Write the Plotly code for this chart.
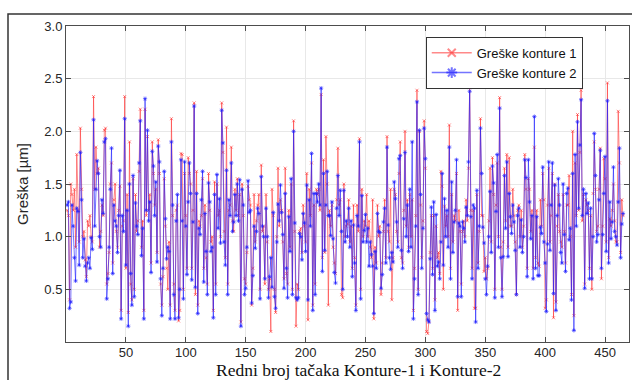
import plotly.graph_objects as go

# Values (index 1..465)
konture2 = [
    1.30,1.33,0.32,0.38,1.30,1.10,0.80,0.58,1.27,1.24,
    0.73,1.80,1.35,0.80,0.98,0.72,0.58,0.75,0.80,0.70,
    0.99,0.88,2.11,1.10,1.45,1.72,1.60,1.00,0.90,1.35,
    1.22,1.90,1.93,0.41,0.60,0.90,1.45,1.84,0.65,1.30,
    1.15,1.10,0.85,1.20,
    1.63,0.22,1.20,1.05,2.12,0.73,
    1.25,0.15,1.50,0.65,0.35,1.58,0.43,1.32,1.10,1.02,
    1.70,2.10,0.82,1.08,0.22,2.31,1.25,2.01,1.15,1.33,
    0.66,1.81,1.67,1.20,1.52,0.76,1.86,1.71,0.60,0.25,
    0.70,1.62,1.17,0.79,0.90,0.86,0.22,1.90,1.30,0.45,
    0.22,1.15,1.40,
    0.23,0.50,1.73,1.15,0.41,1.71,1.10,
    0.64,1.33,1.70,1.41,0.59,1.14,2.24,0.52,1.41,0.27,
    1.08,1.02,1.35,1.62,0.57,1.22,0.86,0.45,1.51,1.33,
    0.86,0.90,0.23,1.40,0.45,1.59,1.08,1.36,0.94,2.20,
    1.89,0.95,0.73,1.63,0.45,1.35,1.20,1.70,1.05,1.14,1.40,
    1.20,1.50,1.15,1.54,0.15,1.45,1.30,0.45,0.51,
    0.90,1.53,1.23,1.25,0.37,0.63,1.10,0.89,1.05,1.27,
    1.22,0.41,1.57,1.10,1.00,0.60,1.27,1.00,0.42,0.62,
    0.80,0.52,1.23,0.43,0.32,0.95,1.31,1.15,1.49,1.23,
    1.02,0.51,1.41,0.70,0.42,1.19,0.86,1.55,0.45,2.00,
    1.13,0.42,0.40,0.42,1.03,1.00,0.78,1.22,1.13,0.86,
    1.49,0.40,1.35,1.10,1.79,0.30,1.41,0.45,1.41,1.33,
    1.50,1.30,2.41,0.67,1.60,0.87,1.30,1.62,1.20,1.20,
    1.01,1.33,0.98,0.66,0.56,1.27,1.58,1.20,1.44,1.05,
    0.50,1.44,0.95,1.15,1.00,1.27,0.90,1.15,
    0.62,1.11,
    0.75,0.30,1.20,1.10,1.90,0.41,1.39,0.95,1.06,1.21,
    0.95,1.08,0.72,0.95,0.83,0.72,0.27,0.86,0.70,1.22,
    1.05,1.04,0.51,0.64,1.14,1.27,0.75,1.85,1.11,0.80,
    0.69,0.85,0.76,1.52,1.36,1.14,0.90,1.74,1.77,0.87,
    0.70,1.17,1.80,1.00,1.30,0.86,1.45,
    0.90,1.90,0.22,
    0.60,1.10,2.28,0.45,2.01,1.40,0.70,1.08,2.03,1.74,
    0.27,0.21,0.19,0.79,1.28,0.64,1.33,0.30,1.21,0.72,
    0.76,0.60,0.95,1.60,0.73,1.36,1.00,1.25,0.90,1.85,
    0.60,1.52,0.85,1.14,1.25,1.73,0.43,1.13,1.10,0.43,
    1.14,1.08,0.95,1.28,1.20,
    1.71,2.38,1.19,0.60,1.30,
    1.27,0.19,1.44,0.70,1.10,2.03,1.60,1.09,0.94,0.60,
    0.45,0.72,1.00,1.43,0.85,1.67,1.51,0.42,1.24,1.78,
    0.90,2.22,0.80,0.43,0.81,1.58,1.08,1.71,0.81,1.41,
    1.19,1.03,1.30,1.14,0.87,0.45,1.20,1.27,0.90,1.16,
    0.85,1.00,1.73,
    1.56,0.62,1.73,1.33,0.98,1.20,0.60,
    2.14,0.70,1.19,0.63,0.63,1.09,1.03,1.66,0.95,0.75,
    0.29,0.93,1.71,0.87,1.30,1.70,0.46,1.49,0.30,1.20,
    1.55,1.30,0.85,0.75,1.50,1.02,0.67,1.41,1.46,0.97,
    1.08,0.40,1.60,0.11,1.78,1.10,2.09,1.27,1.87,2.30,
    1.20,1.45,
    0.51,1.41,1.22,1.32,0.60,1.27,0.60,1.00,
    1.98,1.58,0.95,1.02,1.35,1.82,0.70,1.02,1.41,1.76,
    0.86,2.29,0.75,1.33,0.98,1.14,1.66,1.05,1.00,0.92,
    1.33,1.84,0.80,1.12,1.22,
]

konture1 = [
    1.25,1.20,0.40,1.50,1.40,1.25,1.45,0.90,1.78,1.25,
    0.95,2.03,1.45,1.00,1.05,0.78,0.62,1.15,1.10,1.20,
    1.00,0.95,2.33,1.45,1.85,1.60,1.65,0.90,1.05,1.30,
    1.20,2.01,2.03,0.55,0.65,0.85,1.50,1.70,0.75,1.35,
    1.50,1.05,0.90,1.25,
    1.48,0.30,1.10,1.15,2.33,0.70,
    1.40,0.28,1.90,0.55,0.40,1.55,0.50,1.40,1.05,1.15,
    1.62,2.21,0.90,1.15,0.30,2.21,1.20,1.95,1.25,1.40,
    0.75,1.90,1.60,1.30,1.45,0.85,1.92,1.60,0.55,0.35,
    0.62,1.55,1.10,0.70,0.50,0.95,0.35,2.12,1.20,0.55,
    0.30,1.25,1.30,
    0.20,0.30,1.79,1.78,0.50,1.60,1.20,
    0.70,1.75,1.60,1.50,0.70,1.25,2.27,0.45,1.62,0.35,
    1.15,1.10,1.20,1.55,0.70,1.30,0.80,0.55,1.60,1.25,
    0.95,1.00,0.30,1.52,0.55,1.50,1.20,1.25,1.00,2.27,
    1.80,1.05,0.80,2.04,0.55,1.25,1.30,1.85,1.15,1.05,1.45,
    1.25,1.55,1.20,1.40,0.19,1.50,1.20,0.60,0.55,
    0.85,1.48,1.35,1.30,0.35,0.70,1.40,0.95,1.15,1.30,
    1.40,0.50,1.68,1.05,1.10,0.55,1.40,0.95,0.50,0.60,
    0.10,1.45,1.20,0.50,0.28,1.00,1.65,1.10,1.35,1.25,
    0.95,0.60,1.65,0.65,0.55,1.25,0.90,1.50,0.50,2.10,
    1.05,0.15,0.55,0.50,1.05,1.08,0.85,1.30,1.10,0.95,
    1.60,0.21,1.45,1.20,1.70,0.35,1.30,0.55,1.45,1.40,
    1.45,1.25,2.35,0.80,1.73,0.85,1.95,1.50,0.35,1.25,
    1.10,1.30,0.90,0.75,0.65,1.35,1.84,1.30,1.35,0.45,
    0.42,1.50,1.00,1.10,1.12,1.35,0.95,1.10,
    0.70,1.30,
    0.80,0.35,1.30,1.05,1.93,0.50,1.45,1.00,1.15,1.10,
    1.40,1.00,1.15,0.90,0.80,1.35,0.22,0.90,0.75,1.30,
    1.00,1.10,0.45,0.75,1.05,1.35,0.80,1.95,1.05,0.95,
    1.45,0.40,0.80,1.45,1.40,1.05,0.95,1.60,1.90,0.80,
    0.75,1.25,2.00,1.10,1.35,0.90,1.40,
    1.00,1.35,0.30,
    0.70,1.20,2.39,0.50,2.00,1.30,0.80,1.15,2.10,1.65,
    0.10,0.08,0.20,0.85,1.20,0.70,1.20,0.40,1.10,0.80,
    0.85,0.65,1.62,1.48,0.50,1.29,1.10,1.20,1.00,2.06,
    0.70,1.40,0.95,1.20,1.15,1.60,0.30,1.25,1.05,0.55,
    1.05,1.15,1.00,1.35,1.15,
    1.65,2.44,1.25,0.70,1.25,
    0.32,0.32,1.40,0.75,1.05,2.12,1.20,1.20,0.67,0.80,
    0.60,0.70,1.15,1.65,0.95,1.75,1.40,0.50,1.30,1.70,
    1.00,2.32,0.90,0.50,0.95,1.65,1.15,1.78,0.90,1.75,
    1.10,1.10,1.45,1.20,0.95,0.45,1.25,1.30,1.00,1.25,
    0.90,1.10,1.78,
    1.45,0.70,1.55,1.45,1.05,1.25,0.70,
    1.85,0.80,1.25,0.75,0.72,1.35,1.10,1.60,1.35,0.32,
    0.40,1.30,1.65,0.95,1.20,1.60,0.23,1.50,0.38,1.10,
    1.40,1.05,0.95,0.90,1.40,1.05,0.75,1.30,1.30,1.58,
    1.00,0.45,2.00,0.25,1.70,1.20,2.16,1.25,1.80,2.39,
    1.15,1.40,
    0.55,1.35,1.30,1.25,0.70,1.20,0.50,1.41,
    1.90,1.45,1.05,1.10,1.45,1.84,0.60,1.10,1.74,1.55,
    0.95,2.46,0.80,1.17,1.10,1.25,1.50,1.15,0.95,0.95,
    2.19,1.70,0.85,1.35,1.20,
]

idx1 = list(range(1, len(konture1) + 1))
idx2 = list(range(1, len(konture2) + 1))

x_ticks = [50, 100, 150, 200, 250, 300, 350, 400, 450]
y_ticks = [0.5, 1.0, 1.5, 2.0, 2.5, 3.0]
y_tick_text = ["0.5", "1.0", "1.5", "2.0", "2.5", "3.0"]

name1 = "Greške konture 1"
name2 = "Greške konture 2"

RED_LINE = "rgba(255,40,40,0.55)"
BLUE_LINE = "rgba(30,30,255,0.62)"

fig = go.Figure()
fig.add_trace(go.Scatter(
    x=idx1, y=konture1, mode="lines+markers", showlegend=False,
    line=dict(color=RED_LINE, width=1),
    marker=dict(symbol="x-thin-open", size=3, line=dict(color="rgba(255,0,0,0.7)", width=1)),
))
fig.add_trace(go.Scatter(
    x=idx2, y=konture2, mode="lines+markers", showlegend=False,
    line=dict(color=BLUE_LINE, width=1),
    marker=dict(symbol="asterisk-open", size=3.5, line=dict(color="rgba(0,0,255,0.9)", width=1)),
))
# legend entries
fig.add_trace(go.Scatter(
    x=[None], y=[None], mode="lines+markers", name=name1,
    line=dict(color=RED_LINE, width=1.5),
    marker=dict(symbol="x-thin-open", size=8, line=dict(color="red", width=2)),
))
fig.add_trace(go.Scatter(
    x=[None], y=[None], mode="lines+markers", name=name2,
    line=dict(color=BLUE_LINE, width=1.5),
    marker=dict(symbol="asterisk-open", size=9, line=dict(color="blue", width=2)),
))

axis_common = dict(
    showline=True, linecolor="#4d4d4d", linewidth=1, mirror="ticks",
    ticks="inside", ticklen=5, tickcolor="#4d4d4d",
    showgrid=True, gridcolor="#e8e8e8", gridwidth=1, zeroline=False,
    tickfont=dict(family="Liberation Sans, Arial, sans-serif", size=13, color="#262626"),
)

fig.update_layout(
    width=632, height=380,
    margin=dict(l=66, r=3, t=26, b=38),
    paper_bgcolor="white", plot_bgcolor="white",
    xaxis=dict(range=[0, 470], tickvals=x_ticks, ticklabelstandoff=-2, **axis_common),
    yaxis=dict(range=[0, 3], tickvals=y_ticks, ticktext=y_tick_text, **axis_common),
    legend=dict(
        x=0.639, y=0.966, xanchor="left", yanchor="top",
        bgcolor="white", bordercolor="#333333", borderwidth=1,
        font=dict(family="Liberation Sans, Arial, sans-serif", size=13, color="#111111"),
        itemwidth=40, tracegroupgap=0,
    ),
    showlegend=True,
    annotations=[
        dict(text="Greška [µm]", xref="paper", yref="paper",
             x=(22 - 66) / 563, y=0.5, xanchor="center", yanchor="middle",
             textangle=-90, showarrow=False,
             font=dict(family="Liberation Sans, Arial, sans-serif", size=15, color="#262626")),
        dict(text="Redni broj tačaka Konture-1 i Konture-2", xref="paper", yref="paper",
             x=(358 - 66) / 563, y=(342 - 381) / 316, xanchor="center", yanchor="bottom",
             showarrow=False, borderpad=0,
             font=dict(family="Liberation Serif, Times New Roman, serif", size=17.5, color="#111111")),
    ],
    shapes=[
        dict(type="rect", xref="paper", yref="paper",
             x0=(8 - 66) / 563, y0=-0.6, x1=1.3, y1=(342 - 14) / 316,
             line=dict(color="#333333", width=1.5), fillcolor="rgba(0,0,0,0)", layer="above"),
    ],
)

fig.write_html("out.html")
